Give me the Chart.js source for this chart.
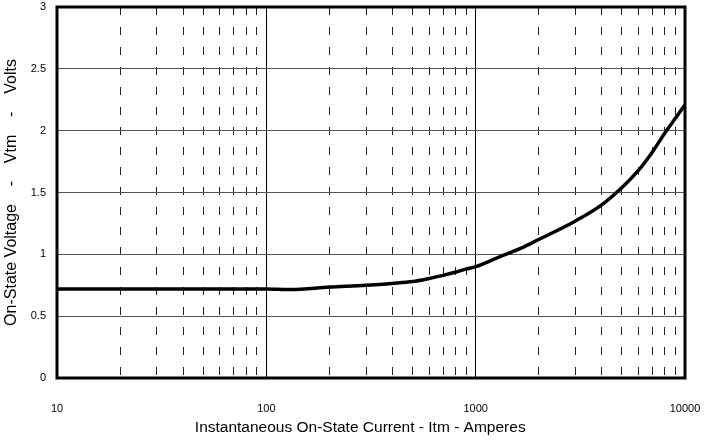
<!DOCTYPE html>
<html>
<head>
<meta charset="utf-8">
<script src="https://cdn.jsdelivr.net/npm/chart.js@4.4.1/dist/chart.umd.min.js"></script>
<style>
    html, body { margin: 0; padding: 0; background: #fff; }
</style>
</head>
<body>
<canvas id="myChart" width="705" height="442"></canvas>
<script>
const currentAmps = [10, 20, 50, 100, 130, 200, 300, 400, 500, 600, 700, 800, 900, 1000, 1300, 1650, 2000, 3000, 4000, 5000, 6000, 7000, 8000, 9000, 10000];
const voltageVolts = [0.72, 0.72, 0.72, 0.72, 0.715, 0.735, 0.75, 0.765, 0.78, 0.805, 0.83, 0.855, 0.88, 0.90, 0.98, 1.05, 1.12, 1.27, 1.40, 1.54, 1.68, 1.83, 1.98, 2.10, 2.21];
const xGridValues = [10, 20, 30, 40, 50, 60, 70, 80, 90, 100, 200, 300, 400, 500, 600, 700, 800, 900, 1000, 2000, 3000, 4000, 5000, 6000, 7000, 8000, 9000, 10000];
const xTickLabels = ["10", "100", "1000", "10000"];
const yTickLabels = ["0", "0.5", "1", "1.5", "2", "2.5", "3"];

const isMajor = (v) => xTickLabels.includes(String(v));

// thick frame round the plot area
const frame = {
    id: "frame",
    afterDatasetsDraw(chart) {
        const { ctx, chartArea: a } = chart;
        ctx.save();
        ctx.strokeStyle = "#000";
        ctx.lineWidth = 3;
        ctx.strokeRect(a.left, a.top, a.right - a.left, a.bottom - a.top);
        ctx.restore();
    },
};

Chart.defaults.font.family = "'Liberation Sans', Arial";
Chart.defaults.color = "#000";

new Chart(document.getElementById("myChart"), {
    type: "line",
    data: {
        datasets: [
            {
                data: currentAmps.map((x, i) => ({ x: x, y: voltageVolts[i] })),
                borderColor: "#000",
                borderWidth: 3.5,
                pointRadius: 0,
                cubicInterpolationMode: "monotone",
            },
        ],
    },
    options: {
        responsive: false,
        animation: false,
        layout: { padding: { top: 7, right: 20, left: 0, bottom: 0 } },
        plugins: { legend: { display: false }, tooltip: { enabled: false } },
        scales: {
            x: {
                type: "logarithmic",
                min: 10,
                max: 10000,
                afterBuildTicks(scale) {
                    scale.ticks = xGridValues.map((v) => ({ value: v }));
                },
                afterFit(scale) {
                    scale.height = 64;
                    scale.paddingLeft = 0;
                    scale.paddingRight = 0;
                },
                ticks: {
                    autoSkip: false,
                    maxRotation: 0,
                    padding: 24,
                    font: { size: 11 },
                    callback: (v) => (isMajor(v) ? String(v) : ""),
                },
                grid: {
                    drawTicks: false,
                    lineWidth: 1,
                    color: (c) => (c.tick && isMajor(c.tick.value) ? "#000" : "#222"),
                },
                border: {
                    display: false,
                    dash: (c) => (c.tick && !isMajor(c.tick.value) ? [8, 12] : []),
                },
                title: {
                    display: true,
                    text: "Instantaneous On-State Current - Itm - Amperes     ",
                    font: { size: 15.5 },
                    padding: { top: 0, bottom: 5 },
                },
            },
            y: {
                min: 0,
                max: 3,
                afterFit(scale) {
                    scale.width = 57;
                    scale.paddingTop = 0;
                    scale.paddingBottom = 0;
                },
                ticks: {
                    stepSize: 0.5,
                    autoSkip: false,
                    padding: 11,
                    font: { size: 11 },
                    callback: (v, i) => yTickLabels[i],
                },
                grid: { drawTicks: false, color: "#555", lineWidth: 1 },
                border: { display: false },
                title: {
                    display: true,
                    text: "On-State Voltage    -    Vtm    -    Volts",
                    font: { size: 16 },
                    padding: { top: 2, bottom: 0 },
                },
            },
        },
    },
    plugins: [frame],
});
</script>
</body>
</html>
